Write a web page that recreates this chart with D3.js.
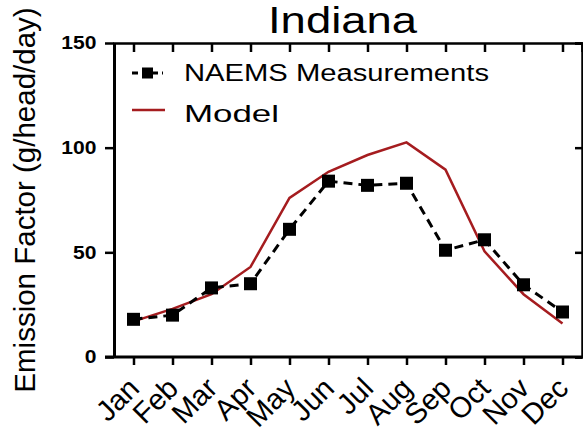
<!DOCTYPE html>
<html lang="en">
<head>
<meta charset="UTF-8">
<title>Indiana</title>
<script src="https://cdn.jsdelivr.net/npm/d3@7"></script>
<style>
  body { margin: 0; background: #fff; }
  text { font-family: "Liberation Sans", Arial, sans-serif; }
</style>
</head>
<body>
<div id="chart"></div>
<script>
// data
var months = ["Jan", "Feb", "Mar", "Apr", "May", "Jun", "Jul", "Aug", "Sep", "Oct", "Nov", "Dec"];
var naems = [18, 20, 33, 35, 61, 84, 82, 83, 51, 56, 34.5, 21.5];
var model = [17, 23, 30, 43, 76, 88.5, 96.5, 102.5, 89.5, 50.5, 30, 16];
var yTicks = [0, 50, 100, 150];

var W = 583, H = 436;
var margin = { top: 43, right: 1, bottom: 79, left: 114 };
var w = W - margin.left - margin.right;
var h = H - margin.top - margin.bottom;
var red = "#a51c1f";

var svg = d3.select("#chart").append("svg")
    .attr("width", W).attr("height", H);

var g = svg.append("g").attr("transform", "translate(" + margin.left + "," + margin.top + ")");

var x = d3.scalePoint().domain(months).range([0, w]).padding(0.5);
var y = d3.scaleLinear().domain([0, 150]).range([h, 0]);

// frame: top and right with inward ticks
g.append("g")
    .call(d3.axisTop(x).tickSize(-9).tickFormat(""))
    .call(function (s) {
        s.select(".domain").attr("stroke-width", 2.5);
        s.selectAll(".tick line").attr("stroke-width", 2.5);
    });
g.append("g")
    .attr("transform", "translate(" + w + ",0)")
    .call(d3.axisRight(y).tickValues(yTicks).tickSize(-7).tickFormat(""))
    .call(function (s) {
        s.select(".domain").attr("stroke-width", 2.5);
        s.selectAll(".tick line").attr("stroke-width", 2.5);
    });

// left axis
g.append("g")
    .call(d3.axisLeft(y).tickValues(yTicks).tickSize(9).tickPadding(6).tickSizeOuter(0))
    .call(function (s) {
        s.select(".domain").attr("stroke-width", 3);
        s.selectAll(".tick line").attr("stroke-width", 2.5);
        s.selectAll(".tick text")
            .attr("font-size", 18).attr("font-weight", "bold")
            .attr("fill", "#000")
            .attr("transform", "scale(1.17,1)");
    });

// bottom axis
g.append("g")
    .attr("transform", "translate(0," + h + ")")
    .call(d3.axisBottom(x).tickSize(8).tickSizeOuter(0))
    .call(function (s) {
        s.select(".domain").attr("stroke-width", 3)
            .attr("d", "M-9,0H" + w);
        s.selectAll(".tick line").attr("stroke-width", 2.5);
        s.selectAll(".tick text")
            .style("font-size", "29px")
            .attr("fill", "#000")
            .attr("text-anchor", "end")
            .attr("y", 0).attr("dy", 0)
            .attr("transform", "translate(7,33) rotate(-45)");
    });

// model line
g.append("path")
    .datum(model)
    .attr("fill", "none")
    .attr("stroke", red)
    .attr("stroke-width", 2.5)
    .attr("d", d3.line().x(function (d, i) { return x(months[i]); }).y(function (d) { return y(d); }));

// measurements
g.append("path")
    .datum(naems)
    .attr("fill", "none")
    .attr("stroke", "#000")
    .attr("stroke-width", 3)
    .attr("stroke-dasharray", "9,6")
    .attr("d", d3.line().x(function (d, i) { return x(months[i]); }).y(function (d) { return y(d); }));

var sq = 13;
g.selectAll(".pt").data(naems).enter().append("rect")
    .attr("class", "pt")
    .attr("x", function (d, i) { return x(months[i]) - sq / 2; })
    .attr("y", function (d) { return y(d) - sq / 2; })
    .attr("width", sq).attr("height", sq)
    .attr("fill", "#000");

// legend
var lg = svg.append("g");
lg.append("line").attr("x1", 132).attr("x2", 163).attr("y1", 73).attr("y2", 73)
    .attr("stroke", "#000").attr("stroke-width", 3).attr("stroke-dasharray", "6,4");
lg.append("rect").attr("x", 142).attr("y", 67.5).attr("width", 11).attr("height", 11).attr("fill", "#000");
lg.append("text").attr("x", 184).attr("y", 81).attr("font-size", 24.5)
    .attr("textLength", 305).attr("lengthAdjust", "spacingAndGlyphs")
    .text("NAEMS Measurements");
lg.append("line").attr("x1", 132).attr("x2", 165).attr("y1", 110).attr("y2", 110)
    .attr("stroke", red).attr("stroke-width", 2.5);
lg.append("text").attr("x", 184).attr("y", 121.5).attr("font-size", 24.5)
    .attr("textLength", 95).attr("lengthAdjust", "spacingAndGlyphs")
    .text("Model");

// title
svg.append("text").attr("x", 268).attr("y", 33).attr("font-size", 36)
    .attr("textLength", 149).attr("lengthAdjust", "spacingAndGlyphs")
    .text("Indiana");

// y label
svg.append("text")
    .attr("transform", "translate(35,200) rotate(-90)")
    .attr("text-anchor", "middle")
    .attr("font-size", 29.5)
    .text("Emission Factor (g/head/day)");
</script>
</body>
</html>
